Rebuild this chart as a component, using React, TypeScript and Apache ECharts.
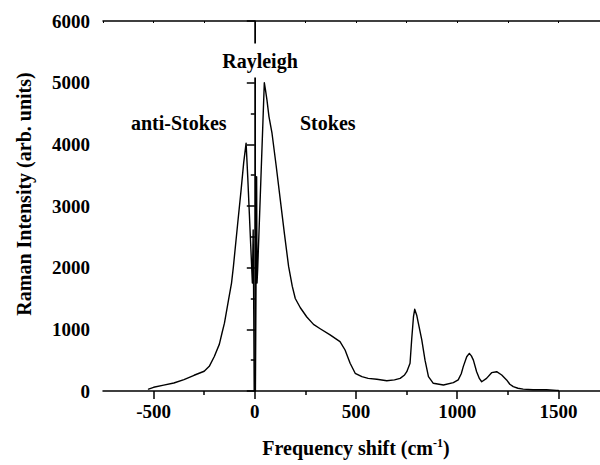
import React, { useEffect, useRef } from "react";
import * as echarts from "echarts";

const shiftCm: number[] = [
  -525, -500, -450, -400, -350, -300, -250, -225, -200, -175, -162, -150, -130, -115, -106, -85, -68, -55, -43, -35,
  -27, -20, -12, -8, -5, -3, 0, 3, 6, 9, 11, 14, 20, 30, 40, 47, 52, 60, 70, 85, 106, 126, 146, 167, 185, 200, 225,
  257, 290, 323, 372, 421, 446, 471, 496, 529, 560, 603, 652, 690, 718, 740, 751, 767, 775, 784, 790, 800, 808, 825,
  841, 858, 882, 932, 981, 1005, 1020, 1030, 1047, 1060, 1070, 1080, 1096, 1110, 1121, 1145, 1170, 1195, 1220, 1244,
  1260, 1277, 1300, 1326, 1375, 1441, 1491, 1500,
];

const intensity: number[] = [
  30, 60, 95, 130, 185, 255, 320, 400, 560, 760, 940, 1100, 1475, 1750, 2010, 2700, 3250, 3700, 4020, 3480, 2880,
  2350, 1750, 2610, 1200, 0, 0, 0, 1700, 3475, 1750, 1960, 2510, 3430, 4350, 5000, 4900, 4720, 4450, 4180, 3640, 3100,
  2560, 2020, 1700, 1500, 1350, 1200, 1080, 1010, 910, 800, 665, 450, 287, 232, 205, 190, 167, 180, 205, 260, 313,
  450, 830, 1205, 1325, 1230, 1100, 830, 500, 232, 125, 97, 135, 180, 280, 395, 555, 610, 570, 500, 313, 200, 150,
  205, 297, 313, 260, 180, 110, 70, 45, 30, 20, 20, 10, 10,
];

const xMajorTicks: number[] = [-500, 0, 500, 1000, 1500];
const xMinorTicks: number[] = [-250, 250, 750, 1250];
const rayleighShift = 0;

const FONT = "'Liberation Serif', 'Times New Roman', serif";

export default function App() {
  const ref = useRef<HTMLDivElement>(null);

  useEffect(() => {
    if (!ref.current) return;
    const chart = echarts.init(ref.current, null, { renderer: "svg" });
    const data = shiftCm.map((x, i) => [x, intensity[i]]);
    const axisLineStyle = { color: "#000", width: 1.5 };
    const labelStyle = {
      fontFamily: FONT,
      fontWeight: "bold" as const,
      fontSize: 19,
      color: "#000",
      formatter: (v: number) => String(v),
    };

    chart.setOption({
      animation: false,
      backgroundColor: "#fff",
      grid: { left: 103, top: 21, width: 506, height: 370, containLabel: false, outerBoundsMode: "none" },
      xAxis: [
        {
          type: "value",
          min: -750,
          max: 1750,
          position: "bottom",
          axisLine: { show: true, lineStyle: axisLineStyle },
          axisTick: { show: true, inside: false, length: 8, customValues: xMajorTicks, lineStyle: { color: "#000", width: 1.5 } },
          axisLabel: { show: true, customValues: xMajorTicks, margin: 11, ...labelStyle },
          splitLine: { show: false },
          name: "{a|Frequency shift (cm}{s|-1}{a|)}",
          nameLocation: "middle",
          nameGap: 46,
          nameTextStyle: {
            rich: {
              a: { fontFamily: FONT, fontWeight: "bold", fontSize: 20, color: "#000", lineHeight: 22 },
              s: { fontFamily: FONT, fontWeight: "bold", fontSize: 12, color: "#000", verticalAlign: "top", lineHeight: 22, padding: [0, 0, 8, 0] },
            },
          },
        },
        {
          type: "value",
          min: -750,
          max: 1750,
          position: "bottom",
          axisLine: { show: false },
          axisTick: { show: true, inside: false, length: 4, customValues: xMinorTicks, lineStyle: { color: "#000", width: 1.5 } },
          axisLabel: { show: false },
          splitLine: { show: false },
        },
        {
          type: "value",
          min: -750,
          max: 1750,
          interval: 250,
          position: "top",
          axisLine: { show: true, lineStyle: axisLineStyle },
          axisTick: { show: true, inside: true, length: 2, lineStyle: { color: "#000", width: 1 } },
          axisLabel: { show: false },
          splitLine: { show: false },
        },
      ],
      yAxis: {
        type: "value",
        min: 0,
        max: 6000,
        interval: 1000,
        axisLine: { show: true, lineStyle: axisLineStyle },
        axisTick: { show: true, inside: false, length: 8, lineStyle: { color: "#000", width: 1.5 } },
        minorTick: { show: true, splitNumber: 2, length: 4, lineStyle: { color: "#000", width: 1.5 } },
        axisLabel: { margin: 13, ...labelStyle },
        splitLine: { show: false },
      },
      series: [
        {
          type: "line",
          data,
          showSymbol: false,
          symbol: "none",
          lineStyle: { color: "#000", width: 1.4, join: "round", cap: "round" },
          z: 3,
          markLine: {
            silent: true,
            symbol: "none",
            label: { show: false },
            lineStyle: { color: "#000", width: 1, type: "solid" },
            data: [{ xAxis: rayleighShift }],
          },
        },
      ],
      graphic: [
        {
          type: "text",
          z: 100,
          x: 260,
          y: 60.5,
          style: {
            text: "Rayleigh",
            fontFamily: FONT,
            fontWeight: "bold",
            fontSize: 20,
            fill: "#000",
            align: "center",
            verticalAlign: "middle",
            backgroundColor: "#fff",
            padding: [7, 3],
          },
        },
        {
          type: "text",
          z: 100,
          x: 131,
          y: 123,
          style: {
            text: "anti-Stokes",
            fontFamily: FONT,
            fontWeight: "bold",
            fontSize: 20,
            fill: "#000",
            align: "left",
            verticalAlign: "middle",
          },
        },
        {
          type: "text",
          z: 100,
          x: 300,
          y: 123,
          style: {
            text: "Stokes",
            fontFamily: FONT,
            fontWeight: "bold",
            fontSize: 20,
            fill: "#000",
            align: "left",
            verticalAlign: "middle",
          },
        },
        {
          type: "text",
          z: 100,
          x: 24,
          y: 194,
          rotation: Math.PI / 2,
          style: {
            text: "Raman Intensity (arb. units)",
            fontFamily: FONT,
            fontWeight: "bold",
            fontSize: 20,
            fill: "#000",
            align: "center",
            verticalAlign: "middle",
          },
        },
      ],
    });

    return () => {
      chart.dispose();
    };
  }, []);

  return <div ref={ref} style={{ position: "absolute", left: 0, top: 0, width: 600, height: 465 }} />;
}
